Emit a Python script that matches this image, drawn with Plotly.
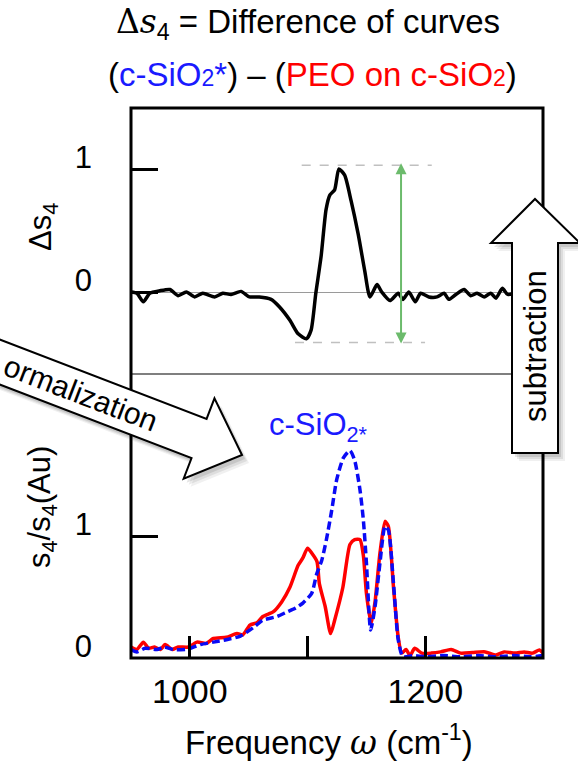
import math
import plotly.graph_objects as go

# ---------------- data ----------------
freq_diff = [950, 955, 960.5, 966, 974.5, 983, 990, 997, 1004, 1011,
             1021, 1028, 1035, 1043.5, 1050.6, 1059, 1069, 1076, 1085, 1092,
             1099, 1103, 1107, 1111.5, 1115.7, 1119, 1123, 1126.6, 1131.5, 1137,
             1143, 1148.6, 1153, 1159, 1163, 1170, 1177, 1181, 1186, 1191.5,
             1196, 1203, 1210, 1216, 1220, 1226, 1233, 1238.5, 1244, 1250,
             1255.6, 1260, 1265.5, 1270, 1280, 1290, 1300]
delta_s4 = [0.0, -0.01, -0.08, -0.01, 0.01, 0.02, -0.03, 0.0, -0.04, -0.01,
            -0.04, -0.01, -0.02, 0.005, -0.04, -0.04, -0.06, -0.12, -0.23, -0.34,
            -0.38, -0.31, -0.01, 0.29, 0.67, 0.79, 0.83, 1.0, 0.95, 0.74,
            0.47, 0.17, -0.04, 0.06, 0.0, -0.07, -0.01, -0.06, 0.0, -0.08,
            -0.01, -0.04, -0.04, -0.01, -0.06, -0.02, 0.02, -0.03, -0.01, -0.04,
            -0.01, -0.05, 0.03, -0.02, 0.0, -0.02, 0.0]

freq_peo = [950, 955, 960.5, 965, 970, 975, 979, 985, 990, 999,
            1006, 1014, 1020, 1031, 1040, 1045, 1051, 1057, 1062, 1071,
            1078, 1085, 1092, 1096, 1100, 1103.5, 1108, 1110, 1115, 1119.6,
            1123, 1130, 1136, 1140, 1144.5, 1147.4, 1150, 1154, 1157.3, 1161.5,
            1165.8, 1168.6, 1173, 1177, 1180, 1183.6, 1187, 1191, 1197, 1205,
            1213, 1222, 1230, 1240, 1251, 1260, 1267, 1276, 1284, 1291,
            1297, 1300]
s4_peo = [0.09, 0.07, 0.13, 0.08, 0.09, 0.07, 0.11, 0.07, 0.09, 0.09,
          0.13, 0.12, 0.16, 0.17, 0.20, 0.19, 0.27, 0.29, 0.34, 0.38,
          0.46, 0.58, 0.76, 0.82, 0.90, 0.86, 0.79, 0.61, 0.42, 0.20,
          0.31, 0.58, 0.93, 0.97, 0.97, 0.84, 0.53, 0.28, 0.46, 0.86,
          1.12, 1.08, 0.58, 0.17, 0.04, 0.07, 0.02, 0.08, 0.04, 0.04,
          0.05, 0.07, 0.04, 0.045, 0.05, 0.025, 0.05, 0.04, 0.05, 0.04,
          0.065, 0.04]

freq_sio2 = [950, 955, 962, 972, 978, 986, 997, 1009, 1020, 1031,
             1043, 1054, 1062, 1074, 1083, 1090, 1096, 1103.5, 1107.8, 1112,
             1116, 1120.5, 1124.7, 1130.4, 1136, 1140, 1144.5, 1147.4, 1150, 1153.6,
             1157.3, 1161.5, 1165.8, 1168.6, 1173, 1177, 1181, 1190, 1200, 1215,
             1230, 1245, 1260, 1275, 1290, 1300]
s4_sio2 = [0.07, 0.05, 0.08, 0.07, 0.09, 0.07, 0.07, 0.11, 0.13, 0.15,
           0.18, 0.25, 0.31, 0.34, 0.38, 0.41, 0.45, 0.53, 0.69, 0.80,
           0.97, 1.21, 1.46, 1.64, 1.70, 1.62, 1.38, 1.13, 0.78, 0.23,
           0.42, 0.78, 1.08, 1.05, 0.61, 0.15, 0.01, 0.02, 0.01, 0.02,
           0.01, 0.02, 0.01, 0.02, 0.01, 0.02]

x_tickvals = [1000, 1100, 1200]
x_ticktext = ["1000", "", "1200"]
y_tickvals = [0, 1]
y_ticktext = ["0", "1"]

# amplitude markers (top panel)
peak_level = 1.03
peak_span = [1095, 1205.5]
dip_level = -0.41
dip_span = [1089.3, 1199.8]
amp_arrow_x = 1179.4
amp_arrow_top = 1.046
amp_arrow_bottom = -0.43

# ---------------- layout geometry ----------------
W, H = 578, 761
L, R, T, B = 131, 543, 108, 658
SEP = 374
split = (B - SEP) / (B - T)

def pxx(x):
    return (x - L) / (R - L)

def pxy(y):
    return (B - y) / (B - T)

def path_from(points, dx=0, dy=0):
    s = "M " + " L ".join(f"{pxx(x + dx):.5f},{pxy(y + dy):.5f}" for x, y in points)
    return s + " Z"

FONT = "Liberation Sans, Arial, sans-serif"
BLUE = "#1a1aff"
RED = "#ff0000"

fig = go.Figure()
fig.add_trace(go.Scatter(x=freq_diff, y=delta_s4, mode="lines", xaxis="x2", yaxis="y2",
                         line=dict(color="black", width=3.5, shape="spline", smoothing=0.6),
                         showlegend=False))
fig.add_trace(go.Scatter(x=freq_peo, y=s4_peo, mode="lines", xaxis="x", yaxis="y",
                         line=dict(color=RED, width=3.5, shape="spline", smoothing=0.6),
                         showlegend=False))
fig.add_trace(go.Scatter(x=freq_sio2, y=s4_sio2, mode="lines", xaxis="x", yaxis="y",
                         line=dict(color="#0a0af5", width=3.5, dash="8px,4px", shape="spline", smoothing=0.6),
                         showlegend=False))

axis_common = dict(showgrid=False, showline=False, ticks="inside", tickcolor="black",
                   tickwidth=3, tickfont=dict(family=FONT, size=31, color="black"))

fig.update_layout(
    width=W, height=H, autosize=False,
    margin=dict(l=L, r=W - R, t=T, b=H - B),
    paper_bgcolor="white", plot_bgcolor="white",
    font=dict(family=FONT, color="black"),
    xaxis=dict(domain=[0, 1], anchor="y", range=[950, 1300], tickvals=x_tickvals,
               ticktext=x_ticktext, ticklen=22, zeroline=False, ticklabelstandoff=10,
               **{**axis_common, "tickfont": dict(family=FONT, size=34, color="black")}),
    xaxis2=dict(domain=[0, 1], anchor="y2", range=[950, 1300], matches="x",
                showticklabels=False, showgrid=False, showline=False, ticks="", zeroline=False),
    yaxis=dict(domain=[0, split], anchor="x", range=[0, (B - SEP) / 122],
               tickvals=y_tickvals, ticktext=y_ticktext, ticklen=27, zeroline=False,
               ticklabelstandoff=38, ticklabelshift=-12, **axis_common),
    yaxis2=dict(domain=[split, 1], anchor="x2", range=[-(SEP - 292) / 123, (292 - T) / 123],
                tickvals=y_tickvals, ticktext=y_ticktext, ticklen=27,
                zeroline=True, zerolinecolor="#9a9a9a", zerolinewidth=1.2,
                ticklabelstandoff=38, ticklabelshift=-12, **axis_common),
)

shapes = []
# dashed amplitude guides
shapes.append(dict(type="line", xref="x2", yref="y2", x0=peak_span[0], x1=peak_span[1],
                   y0=peak_level, y1=peak_level, line=dict(color="#c0c0c0", width=1.5, dash="dash")))
shapes.append(dict(type="line", xref="x2", yref="y2", x0=dip_span[0], x1=dip_span[1],
                   y0=dip_level, y1=dip_level, line=dict(color="#c0c0c0", width=1.5, dash="dash")))
# frame + separator
shapes.append(dict(type="rect", xref="paper", yref="paper", x0=0, x1=1, y0=0, y1=1,
                   line=dict(color="black", width=3), layer="above"))
shapes.append(dict(type="line", xref="paper", yref="paper", x0=0, x1=1, y0=split, y1=split,
                   line=dict(color="black", width=1.2), layer="above"))

# subtraction block arrow (vertical)
sub_pts = [(512, 453), (512, 243), (491, 243), (535, 199), (580, 243), (558, 243), (558, 453)]
# normalization block arrow (tilted)
ang = math.radians(21)
ux, uy = math.cos(ang), math.sin(ang)
nx, ny = -uy, ux
tip = (242, 455)
hb = (tip[0] - ux * 46, tip[1] - uy * 46)
def P(c, t, s):
    return (c[0] - ux * t + nx * s, c[1] - uy * t + ny * s)
norm_pts = [P(hb, 300, -21), P(hb, 0, -21), P(hb, 0, -43), tip, P(hb, 0, 43), P(hb, 0, 21), P(hb, 300, 21)]

for pts in (sub_pts, norm_pts):
    for (dx, dy, a) in ((7, 8, 0.06), (5, 6, 0.08), (3, 4, 0.10)):
        shapes.append(dict(type="path", xref="paper", yref="paper", path=path_from(pts, dx, dy),
                           fillcolor=f"rgba(0,0,0,{a})", line=dict(width=0), layer="above"))
    shapes.append(dict(type="path", xref="paper", yref="paper", path=path_from(pts),
                       fillcolor="white", line=dict(color="black", width=2), layer="above"))
fig.update_layout(shapes=shapes)

ann = []
# green amplitude arrow
ann.append(dict(xref="x2", yref="y2", axref="x2", ayref="y2", x=amp_arrow_x, y=amp_arrow_top,
                ax=amp_arrow_x, ay=amp_arrow_bottom, text="", showarrow=True, arrowhead=2,
                startarrowhead=2, arrowside="end+start", arrowsize=1.1, startarrowsize=1.1,
                arrowwidth=2, arrowcolor="#6cbb6c", standoff=0, startstandoff=0))
# series label
ann.append(dict(xref="x", yref="y", x=1065.5, y=1.89, xanchor="left", yanchor="middle",
                text="c-SiO<sub>2*</sub>", showarrow=False, font=dict(family=FONT, size=31, color=BLUE)))
# title lines
ann.append(dict(xref="paper", yref="paper", x=pxx(308), y=pxy(24), xanchor="center", yanchor="middle",
                text='<span style="font-family:DejaVu Serif">Δ<i>s</i></span><sub>4</sub> = Difference of curves',
                showarrow=False, font=dict(family=FONT, size=33, color="black")))
ann.append(dict(xref="paper", yref="paper", x=pxx(312), y=pxy(75), xanchor="center", yanchor="middle",
                text=f'(<span style="color:{BLUE}">c-SiO<span style="font-size:23px">2</span>*</span>) – '
                     f'(<span style="color:{RED}">PEO on c-SiO<span style="font-size:23px">2</span></span>)',
                showarrow=False, font=dict(family=FONT, size=33, color="black")))
# axis titles
ann.append(dict(xref="paper", yref="paper", x=pxx(329), y=pxy(740), xanchor="center", yanchor="middle",
                text='Frequency <span style="font-family:DejaVu Serif"><i>ω</i></span> (cm<sup>-1</sup>)',
                showarrow=False, font=dict(family=FONT, size=33, color="black")))
ann.append(dict(xref="paper", yref="paper", x=pxx(43), y=pxy(227), xanchor="center", yanchor="middle",
                text="Δs<sub>4</sub>", textangle=-90, showarrow=False,
                font=dict(family=FONT, size=31, color="black")))
ann.append(dict(xref="paper", yref="paper", x=pxx(42), y=pxy(507), xanchor="center", yanchor="middle",
                text="s<sub>4</sub>/s<sub>4</sub>(Au)", textangle=-90, showarrow=False,
                font=dict(family=FONT, size=31, color="black")))
# arrow labels
ann.append(dict(xref="paper", yref="paper", x=pxx(535), y=pxy(346), xanchor="center", yanchor="middle",
                text="subtraction", textangle=-90, showarrow=False,
                font=dict(family=FONT, size=31, color="black")))
c = P(hb, 126, 0)
ann.append(dict(xref="paper", yref="paper", x=pxx(c[0]), y=pxy(c[1]), xanchor="center", yanchor="middle",
                text="ormalization", textangle=21, showarrow=False,
                font=dict(family=FONT, size=30, color="black")))
fig.update_layout(annotations=ann)

fig.write_html("out.html")
